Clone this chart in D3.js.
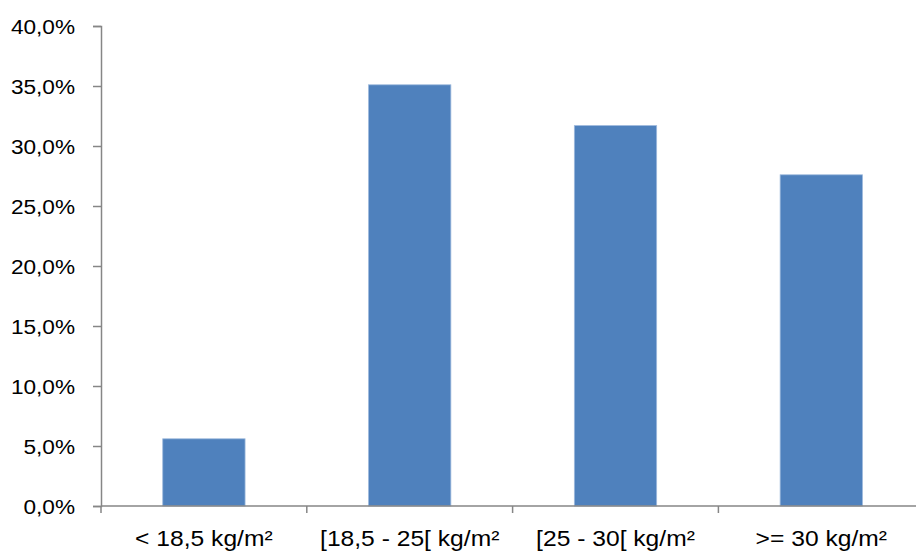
<!DOCTYPE html>
<html><head><meta charset="utf-8">
<script src="https://cdn.jsdelivr.net/npm/d3@7/dist/d3.min.js"></script>
<style>
html,body{margin:0;padding:0;background:#fff;overflow:hidden}
text{font-family:"Liberation Sans",Arial,sans-serif;fill:#000}
</style></head><body>
<svg id="c" width="916" height="551"></svg>
<script>
const categories = ["< 18,5 kg/m²", "[18,5 - 25[ kg/m²", "[25 - 30[ kg/m²", ">= 30 kg/m²"];
const values = [5.6, 35.1, 31.7, 27.6];
const yTicks = [0, 5, 10, 15, 20, 25, 30, 35, 40];

const svg = d3.select("#c");
const mLeft = 101, mRight = 924.2, mTop = 26, mBottom = 506;

const x = d3.scaleBand().domain(categories).range([mLeft, mRight]).paddingInner(0.6).paddingOuter(0.3);
const y = d3.scaleLinear().domain([0, 40]).range([mBottom, mTop]);
const axisColor = "#868686";

// bars
svg.append("g").selectAll("rect").data(values).join("rect")
  .attr("x", (d, i) => x(categories[i]))
  .attr("y", d => y(d))
  .attr("width", x.bandwidth())
  .attr("height", d => y(0) - y(d))
  .attr("fill", "#4F81BD")
  .attr("stroke", "#9DB9DC")
  .attr("stroke-width", 0.8);

// y axis
const yAxis = svg.append("g").attr("transform", `translate(${mLeft},0)`)
  .call(d3.axisLeft(y).tickValues(yTicks).tickSize(8).tickPadding(0)
    .tickFormat(d => d.toFixed(1).replace(".", ",") + "%"));
yAxis.select(".domain").attr("stroke", axisColor).attr("stroke-width", 1.5);
yAxis.selectAll(".tick line").attr("stroke", axisColor).attr("stroke-width", 1.5);
yAxis.selectAll(".tick text").remove();
yAxis.selectAll(".tick").append("text")
  .attr("transform", "translate(-26,0) scale(1.16,1)")
  .attr("text-anchor", "end").attr("dy", "0.36em")
  .style("font-size", "19.5px")
  .text(d => d.toFixed(1).replace(".", ",") + "%");

// x axis
const boundaries = d3.range(categories.length + 1).map(i => mLeft + i * x.step());
const xg = svg.append("g");
xg.append("line").attr("x1", mLeft).attr("x2", mRight).attr("y1", mBottom).attr("y2", mBottom)
  .attr("stroke", axisColor).attr("stroke-width", 1.5);
xg.selectAll("line.t").data(boundaries).join("line").attr("class", "t")
  .attr("x1", d => d).attr("x2", d => d).attr("y1", mBottom).attr("y2", mBottom + 7)
  .attr("stroke", axisColor).attr("stroke-width", 1.5);
xg.selectAll("text").data(categories).join("text")
  .attr("transform", d => `translate(${x(d) + x.bandwidth() / 2},545.5) scale(1.12,1)`)
  .attr("text-anchor", "middle")
  .style("font-size", "22px")
  .text(d => d);
</script></body></html>
